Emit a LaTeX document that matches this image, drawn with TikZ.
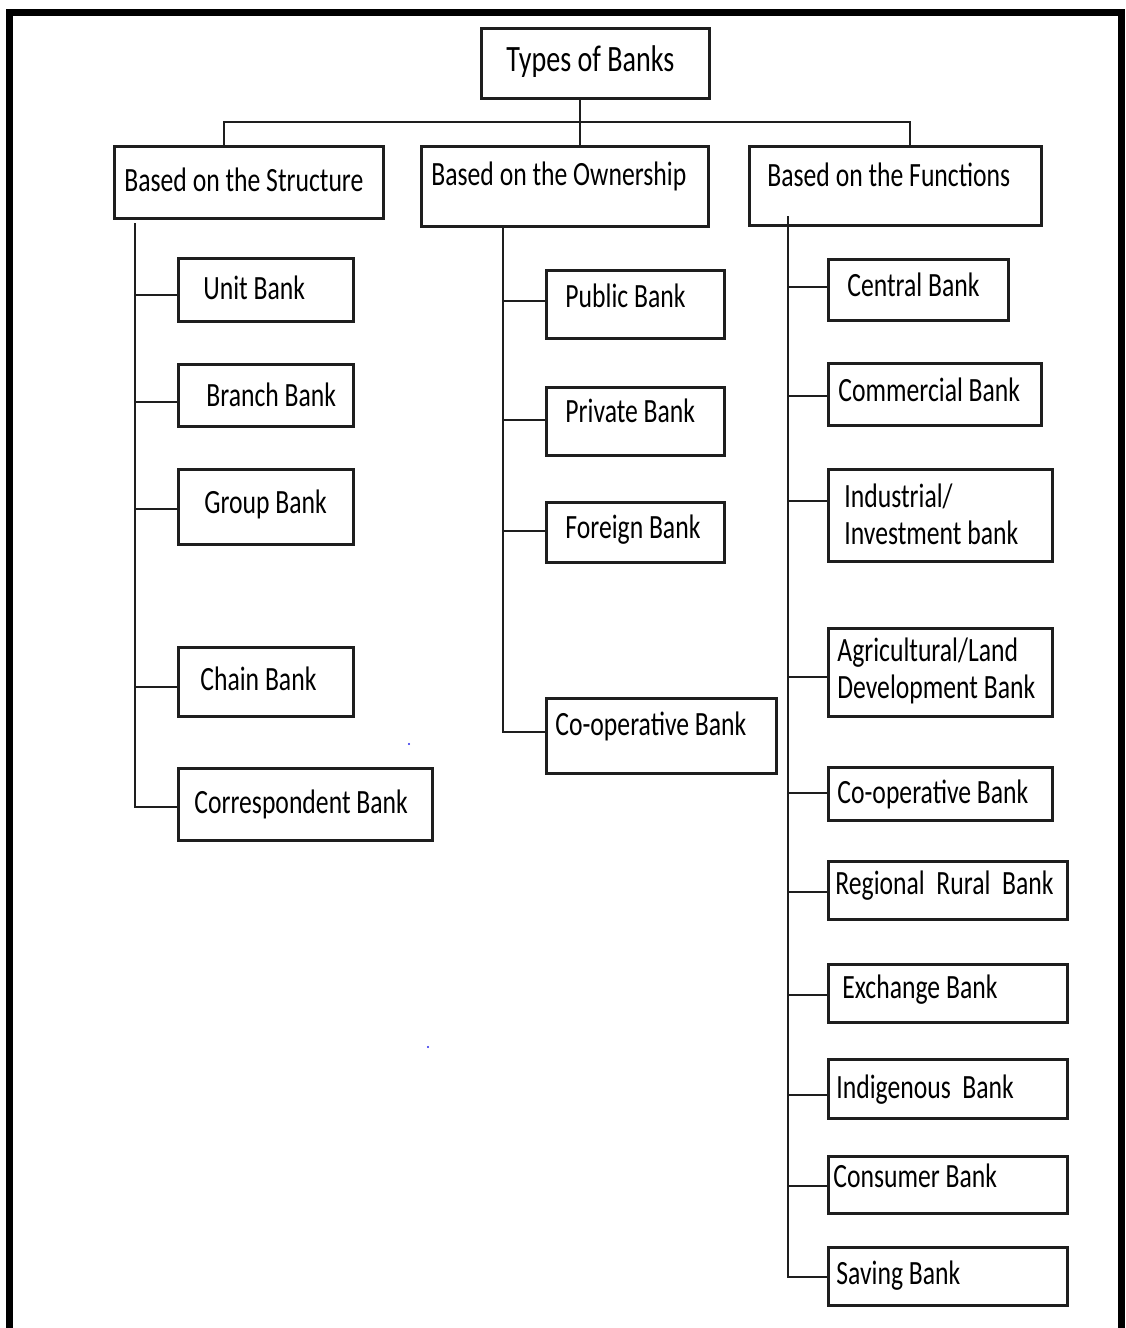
\documentclass[tikz,border=0pt]{standalone}
\usepackage{fontspec}
\setmainfont[FakeStretch=0.755]{Carlito}
\usepackage{xcolor}
\usepackage{tikz}
\usetikzlibrary{fit}
\definecolor{BankLine}{RGB}{30,30,30}
\definecolor{SpeckBlue}{RGB}{40,40,235}

\begin{document}
\begin{tikzpicture}[x=0.5pt,y=-0.5pt,
    box/.style={draw=BankLine, line width=1.5pt, inner sep=0pt},
    lbl/.style={anchor=base west, inner sep=0pt, align=left, font=\fontsize{17}{18.5}\selectfont},
    link/.style={draw=BankLine, line width=1.3pt}]
  \useasboundingbox (0,0) rectangle (1125,1328);
  % outer frame, open at the bottom
  \draw[line width=3.5pt] (9.5,1328) -- (9.5,12.5) -- (1121.5,12.5) -- (1121.5,1328);

  % root and the three groups
  \node[box, fit={(481,28) (709,98)}] (root) {};
  \node[lbl, font=\fontsize{18.6}{20}\selectfont] (root-l) at (506,71) {Types of Banks};
  \node[box, fit={(114,146) (383,218)}] (struct) {};
  \node[lbl] (struct-l) at (124,191) {Based on the Structure};
  \node[box, fit={(421,146) (708,226)}] (own) {};
  \node[lbl] (own-l) at (431,185) {Based on the Ownership};
  \node[box, fit={(749,146) (1041,225)}] (func) {};
  \node[lbl] (func-l) at (767,186) {Based on the Functions};

  \coordinate (bus) at (580,122);
  \coordinate (busl) at (224,122);
  \coordinate (busr) at (910,122);
  \draw[link] (root.south -| bus) -- (bus |- own.north);
  \draw[link] (busl |- struct.north) -- (busl) -- (busr) -- (busr |- func.north);

  % based on the structure
  \node[box, fit={(178,258) (353,321)}] (unit) {};
  \node[lbl] (unit-l) at (203,299) {Unit Bank};
  \node[box, fit={(178,364) (353,426)}] (branch) {};
  \node[lbl] (branch-l) at (206,406) {Branch Bank};
  \node[box, fit={(178,469) (353,544)}] (group) {};
  \node[lbl] (group-l) at (204,513) {Group Bank};
  \node[box, fit={(178,647) (353,716)}] (chain) {};
  \node[lbl] (chain-l) at (200,690) {Chain Bank};
  \node[box, fit={(178,768) (432,840)}] (corr) {};
  \node[lbl] (corr-l) at (194,813) {Correspondent Bank};

  \coordinate (s0) at (135,223);
  \draw[link] (s0) |- (corr.west |- 0,807);
  \foreach \c/\y in {unit/295,branch/402,group/509,chain/687}
    \draw[link] (s0 |- 0,\y) -- (\c.west |- 0,\y);

  % based on the ownership
  \node[box, fit={(546,270) (724,338)}] (pub) {};
  \node[lbl] (pub-l) at (565,307) {Public Bank};
  \node[box, fit={(546,387) (724,455)}] (priv) {};
  \node[lbl] (priv-l) at (565,422) {Private Bank};
  \node[box, fit={(546,502) (724,562)}] (forg) {};
  \node[lbl] (forg-l) at (565,538) {Foreign Bank};
  \node[box, fit={(546,698) (776,773)}] (ocoop) {};
  \node[lbl] (ocoop-l) at (555,735) {Co-operative Bank};

  \coordinate (o0) at (503,225);
  \draw[link] (o0) |- (ocoop.west |- 0,732);
  \foreach \c/\y in {pub/301,priv/420,forg/531}
    \draw[link] (o0 |- 0,\y) -- (\c.west |- 0,\y);

  % based on the functions
  \node[box, fit={(828,259) (1008,320)}] (cent) {};
  \node[lbl] (cent-l) at (847,296) {Central Bank};
  \node[box, fit={(828,363) (1041,425)}] (comm) {};
  \node[lbl] (comm-l) at (838,401) {Commercial Bank};
  \node[box, fit={(828,469) (1052,561)}] (indu) {};
  \node[lbl] (indu-l) at (844,544) {Industrial/\\Investment bank};
  \node[box, fit={(828,628) (1052,716)}] (agri) {};
  \node[lbl] (agri-l) at (837,698) {Agricultural/Land\\Development Bank};
  \node[box, fit={(828,767) (1052,820)}] (fcoop) {};
  \node[lbl] (fcoop-l) at (837,803) {Co-operative Bank};
  \node[box, fit={(828,861) (1067,919)}] (rrb) {};
  \node[lbl] (rrb-l) at (835,894) {Regional~~Rural~~Bank};
  \node[box, fit={(828,964) (1067,1022)}] (exch) {};
  \node[lbl] (exch-l) at (842,998) {Exchange Bank};
  \node[box, fit={(828,1059) (1067,1118)}] (indi) {};
  \node[lbl] (indi-l) at (836,1098) {Indigenous~~Bank};
  \node[box, fit={(828,1156) (1067,1213)}] (cons) {};
  \node[lbl] (cons-l) at (833,1187) {Consumer Bank};
  \node[box, fit={(828,1247) (1067,1305)}] (save) {};
  \node[lbl] (save-l) at (836,1284) {Saving Bank};

  \coordinate (f0) at (788,216);
  \draw[link] (f0) |- (save.west |- 0,1277);
  \foreach \c/\y in {cent/287,comm/396,indu/501,agri/677,fcoop/793,rrb/892,exch/995,indi/1095,cons/1186}
    \draw[link] (f0 |- 0,\y) -- (\c.west |- 0,\y);

  % stray specks
  \fill[SpeckBlue] (409,744) circle (1.2);
  \fill[SpeckBlue] (428,1047) circle (1.2);
\end{tikzpicture}
\end{document}
